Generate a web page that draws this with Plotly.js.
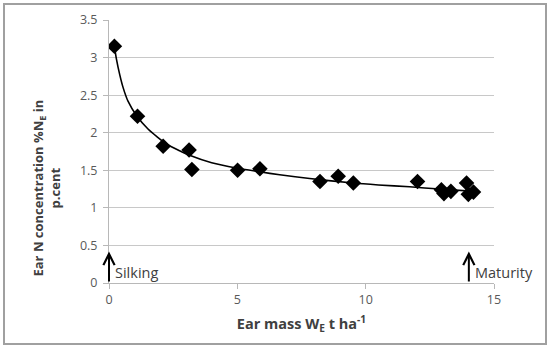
<!DOCTYPE html>
<html>
<head>
<meta charset="utf-8">
<script src="https://cdn.plot.ly/plotly-3.0.1.min.js"></script>
<style>
  html, body { margin: 0; padding: 0; background: #fff; }
  #wrap { position: relative; width: 550px; height: 348px; }
  #chart { width: 550px; height: 348px; }
  #frame { position: absolute; left: 3px; top: 3px; width: 540px; height: 338px;
           border: 2px solid #a0a0a0; pointer-events: none; }
</style>
</head>
<body>
<div id="wrap">
  <div id="chart"></div>
  <div id="frame"></div>
</div>
<script>
// Observed data points (ear mass t/ha, ear N %)
const earMass = [0.21, 1.11, 2.11, 3.12, 3.23, 5.01, 5.88, 8.22, 8.93, 9.52, 12.02, 12.95, 13.05, 13.32, 13.93, 14.0, 14.2];
const earN    = [3.15, 2.22, 1.82, 1.77, 1.51, 1.50, 1.52, 1.35, 1.42, 1.33, 1.35, 1.24, 1.19, 1.22, 1.33, 1.18, 1.21];

// Trend curve
const curveX = [0.21, 0.29, 0.42, 0.55, 0.74, 1.07, 1.52, 2.24, 2.75, 3.14, 4.0, 4.96, 5.87, 6.65, 7.82, 9.51, 10.5, 11.71, 12.88, 14.25];
const curveY = [3.15, 2.98, 2.77, 2.60, 2.42, 2.23, 2.05, 1.85, 1.76, 1.70, 1.60, 1.53, 1.48, 1.44, 1.39, 1.33, 1.305, 1.28, 1.25, 1.22];

// Stage markers
const stageX = [0, 14.02];
const stageLabels = ['Silking', 'Maturity'];

const xTicks = [0, 5, 10, 15];
const yTicks = [0, 0.5, 1, 1.5, 2, 2.5, 3, 3.5];

const traces = [
  {
    x: curveX, y: curveY, mode: 'lines', type: 'scatter',
    line: { color: '#000', width: 1.6, shape: 'spline', smoothing: 0.6 },
    hoverinfo: 'skip', showlegend: false
  },
  {
    x: earMass, y: earN, mode: 'markers', type: 'scatter',
    marker: { symbol: 'diamond', size: 12, color: '#000' },
    showlegend: false
  }
];

const FONT = 'Open Sans, Liberation Sans, sans-serif';
const annotations = [];
stageX.forEach((sx, i) => {
  annotations.push({
    x: sx, y: 0.42, xref: 'x', yref: 'y',
    ax: sx, ay: 0, axref: 'x', ayref: 'y',
    text: '', showarrow: true, arrowhead: 5, arrowsize: 1.1, arrowwidth: 2, arrowcolor: '#000',
    standoff: 0, startstandoff: 0
  });
  annotations.push({
    x: sx, y: 0.14, xref: 'x', yref: 'y',
    text: stageLabels[i], showarrow: false, xanchor: 'left', xshift: 4,
    font: { family: FONT, size: 14.5, color: '#404040' }
  });
});
// Y-axis title (two lines, rotated)
annotations.push({
  x: 0, xref: 'paper', xshift: -62, y: 1.59, yref: 'y', yshift: -25,
  text: '<b>Ear N concentration %N<sub>E</sub> in<br>p.cent</b>',
  textangle: -90, showarrow: false, xanchor: 'center', yanchor: 'middle', align: 'center',
  font: { family: FONT, size: 13, color: '#404040' }
});

const layout = {
  width: 550, height: 348,
  margin: { l: 109, r: 56, t: 20, b: 65 },
  paper_bgcolor: '#fff', plot_bgcolor: '#fff',
  font: { family: FONT, color: '#595959' },
  xaxis: {
    range: [0, 15], tickvals: xTicks, ticktext: xTicks.map(String),
    showgrid: false, zeroline: false,
    showline: true, linecolor: '#b8b8b8', linewidth: 1,
    ticks: 'outside', ticklen: 5, tickcolor: '#b8b8b8',
    tickfont: { size: 12.5, color: '#595959' },
    title: { text: '<b>Ear mass W<sub>E</sub> t ha<sup>-1</sup></b>', standoff: 11,
             font: { size: 14.5, color: '#404040' } }
  },
  yaxis: {
    range: [0, 3.5], tickvals: yTicks, ticktext: yTicks.map(String),
    showgrid: true, gridcolor: '#c8c8c8', gridwidth: 1, zeroline: false,
    showline: true, linecolor: '#b8b8b8', linewidth: 1,
    ticks: 'outside', ticklen: 5, tickcolor: '#b8b8b8',
    ticklabelstandoff: 3,
    tickfont: { size: 12.5, color: '#595959' }
  },
  annotations: annotations
};

Plotly.newPlot('chart', traces, layout, { displayModeBar: false, staticPlot: true });
</script>
</body>
</html>
